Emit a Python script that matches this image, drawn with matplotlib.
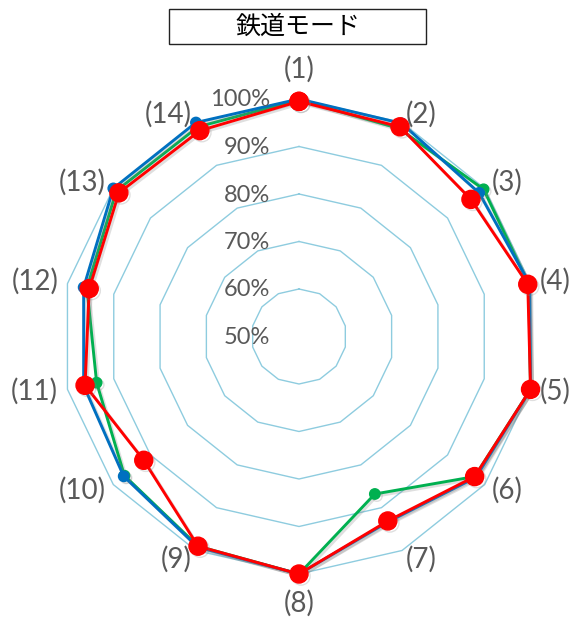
import numpy as np
import matplotlib
matplotlib.use("Agg")
import matplotlib.pyplot as plt
import matplotlib.transforms as mtransforms
import matplotlib.patheffects as pe
from matplotlib.patches import Rectangle

# Categories and series (percent)
categories = ["(1)", "(2)", "(3)", "(4)", "(5)", "(6)", "(7)",
              "(8)", "(9)", "(10)", "(11)", "(12)", "(13)", "(14)"]
series_blue = [100.0, 99.8, 98.5, 99.8, 100.0, 97.6, 93.3,
               100.0, 99.2, 97.2, 96.5, 96.5, 100.0, 100.0]
series_green = [99.8, 98.6, 99.7, 99.6, 100.0, 97.3, 86.8,
                100.0, 99.0, 97.0, 93.7, 95.8, 99.2, 99.0]
series_red = [99.5, 99.0, 96.3, 99.4, 100.0, 97.3, 93.1,
              100.0, 99.0, 91.8, 96.2, 95.3, 98.5, 98.1]
ring_values = [50, 60, 70, 80, 90, 100]
ring_labels = ["50%", "60%", "70%", "80%", "90%", "100%"]
title_text = "鉄道モード"

W, H, DPI = 579, 620, 100
fig = plt.figure(figsize=(W / DPI, H / DPI), dpi=DPI)

cx, cy, R = 299, 336.5, 237.5
ax = fig.add_axes([(cx - R) / W, (H - cy - R) / H, 2 * R / W, 2 * R / H],
                  projection="polar")
ax.set_theta_zero_location("N")
ax.set_theta_direction(-1)
ax.set_ylim(ring_values[0], ring_values[-1])
ax.grid(False)
ax.spines["polar"].set_visible(False)
ax.set_xticks([])
ax.set_yticks([])
ax.patch.set_alpha(0)

n = len(categories)
theta = np.linspace(0, 2 * np.pi, n, endpoint=False)
theta_closed = np.append(theta, theta[0])

def closed(vals):
    return np.append(vals, vals[0])

# Polygon rings
ring_color = "#8ECCDF"
for v in ring_values[1:]:
    ax.plot(theta_closed, np.full(n + 1, v), color=ring_color, lw=1.0,
            zorder=1, clip_on=False)

shadow = [pe.SimpleLineShadow(offset=(1.5, -1.5), shadow_color="#808080",
                              alpha=0.25), pe.Normal()]

ax.plot(theta_closed, closed(series_green), color="#00B050", lw=2.1,
        marker="o", ms=7.5, zorder=3, clip_on=False, path_effects=shadow)
ax.plot(theta_closed, closed(series_blue), color="#0070C0", lw=2.1,
        marker="o", ms=7.5, zorder=4, clip_on=False, path_effects=shadow)
ax.plot(theta_closed, closed(series_red), color="#FF0000", lw=2.1,
        marker="o", ms=13, zorder=5, clip_on=False, path_effects=shadow)

label_font = ["Lato", "DejaVu Sans"]
gray = "#595959"

# Category labels, anchored just outside the outer ring
label_r = ring_values[-1] + 2.0
for t, lab in zip(theta, categories):
    s, c = np.sin(t), np.cos(t)
    r = label_r
    if abs(s) < 0.1:
        ha = "center"
        va = "bottom" if c > 0 else "top"
        r = label_r + 1.4
    else:
        ha = "left" if s > 0 else "right"
        va = "center"
    ax.text(t, r, lab, ha=ha, va=va, fontsize=20,
            color=gray, family=label_font, clip_on=False)

# Percentage labels beside the first axis
off = mtransforms.offset_copy(ax.transData, fig=fig, x=-29, y=-1, units="dots")
for v, lab in zip(ring_values, ring_labels):
    ax.text(0, v, lab, transform=off, ha="right", va="center",
            fontsize=17, color=gray, family=label_font, zorder=6)

# Title box
bx0, bx1, by0, by1 = 169, 426, 9, 44
fig.patches.append(Rectangle((bx0 / W, 1 - by1 / H), (bx1 - bx0) / W,
                             (by1 - by0) / H, transform=fig.transFigure,
                             fill=False, edgecolor="#222222", lw=1.0))
fig.text((bx0 + bx1) / 2 / W, 1 - (by0 + by1) / 2 / H, title_text,
         ha="center", va="center", fontsize=18, color="black",
         family=["Noto Sans CJK JP", "DejaVu Sans"])

fig.savefig("out.png", dpi=DPI)
